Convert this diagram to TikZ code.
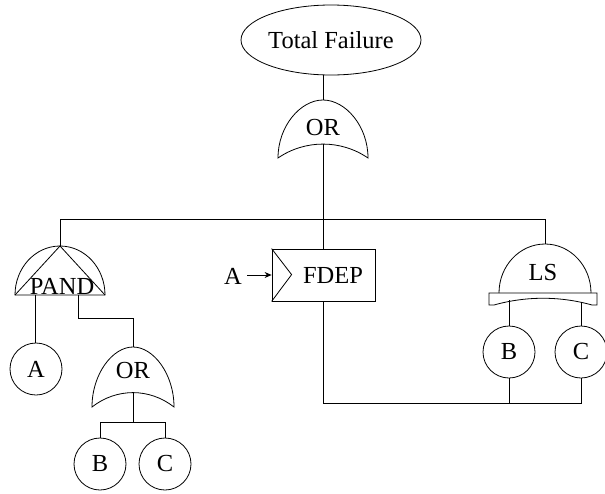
\documentclass[tikz,border=0pt]{standalone}
\usepackage{fontspec}
\setmainfont{Liberation Serif}
\usetikzlibrary{arrows.meta,shapes.geometric}
\begin{document}
\begin{tikzpicture}[x=1pt,y=-1pt, line width=0.8pt,
  lbl/.style={inner sep=0pt, font=\fontsize{24.5}{28}\selectfont},
  evt/.style={circle, draw, minimum size=52pt, inner sep=0pt, font=\fontsize{24.5}{28}\selectfont},
  pics/orgate/.style n args={2}{code={
    \draw (-#1,#2) .. controls (-#1,0.45*#2) and (-0.5*#1,0) .. (0,0)
      .. controls (0.5*#1,0) and (#1,0.45*#2) .. (#1,#2)
      .. controls (0.4*#1,0.68*#2) and (-0.4*#1,0.68*#2) .. cycle;
    \coordinate (-top) at (0,0);
    \coordinate (-bot) at (0,0.76*#2);
  }}
]
\useasboundingbox (0,0) rectangle (605,493);

% top event
\node[ellipse, draw, minimum width=180pt, minimum height=70pt, lbl] (top) at (331,40) {Total Failure};

% top OR gate
\pic (or1) at (323,100) {orgate={45}{58}};
\node[lbl] (or1l) at (323,128) {OR};
\draw (or1-top) -- (or1-top |- top.south);

% bus
\coordinate (busL) at (60,219);
\coordinate (busR) at (545,219);
\draw (or1-bot) -- (or1-bot |- busL);
\draw (busL) -- (busR);

% PAND gate
\coordinate (pand-top) at (60,246);
\coordinate (pandA) at (35,295);
\coordinate (pandB) at (78,295);
\draw (15,295) arc[start angle=180, end angle=0, x radius=45pt, y radius=49pt] -- cycle;
\draw (15,295) -- (pand-top) -- (105,295);
\node[lbl] (pandl) at (62,286) {PAND};
\draw (busL) -- (pand-top);

% PAND children
\node[evt] (A1) at (36,369) {A};
\draw (pandA) -- (pandA |- A1.north);
\pic (or2) at (133,347) {orgate={41}{60}};
\node[lbl] (or2l) at (133,371) {OR};
\draw (pandB) -- ++(0,23) -| (or2-top);
\coordinate (or2j) at (133,422);
\draw (or2-bot) -- (or2j);
\node[evt] (B2) at (100,464) {B};
\node[evt] (C2) at (165,464) {C};
\draw (B2.north) -- (B2.north |- or2j) -- (C2.north |- or2j) -- (C2.north);

% FDEP gate
\node[draw, minimum width=103pt, minimum height=52pt, inner sep=0pt] (fdep) at (323.5,275) {};
\draw (fdep.north west) -- ++(20,26) -- (fdep.south west);
\node[lbl] (fdepl) at (333,275) {FDEP};
\node[lbl] (trig) at (233,276) {A};
\draw[-{Stealth[length=7pt,width=6pt]}] (trig.east) ++(5,-1) coordinate (trigs) -- (fdep.west |- trigs);
\draw (fdep.north) -- (fdep.north |- busL);

% LS gate
\coordinate (ls-top) at (545,244);
\draw (499,293) arc[start angle=180, end angle=0, x radius=46pt, y radius=49pt];
\draw (489,293) -- (597,293) -- (597,305) -- (592,305)
  .. controls (560,296) and (526,296) .. (494,305) -- (489,305) -- cycle;
\node[lbl] (lsl) at (543,273) {LS};
\draw (busR) -- (ls-top);

\node[evt] (B3) at (509,352) {B};
\node[evt] (C3) at (581,352) {C};
\draw (B3.north) -- (B3.north |- 0,300);
\draw (C3.north) -- (C3.north |- 0,302);

\coordinate (botR) at (581,403);
\draw (fdep.south) |- (botR) -- (C3.south);
\draw (B3.south) -- (B3.south |- botR);
\end{tikzpicture}
\end{document}
